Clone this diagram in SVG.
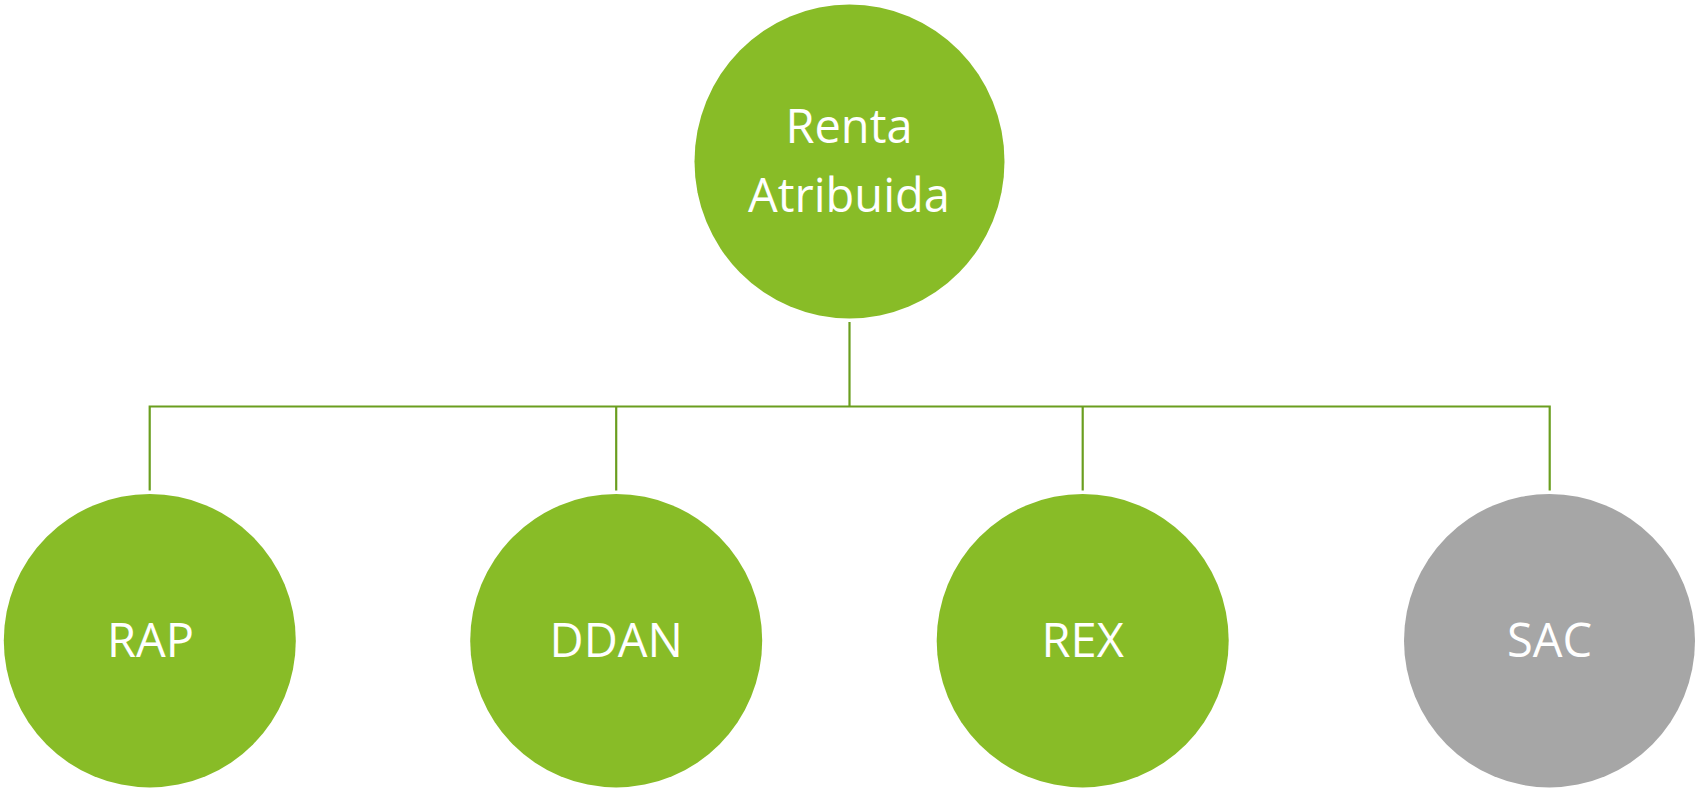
<svg xmlns="http://www.w3.org/2000/svg" width="1697" height="791" viewBox="0 0 1697 791">
<style>
.g{fill:#88BC27}
.s{fill:#A6A6A6}
.t{fill:#FFFFFF;font-family:"Open Sans","DejaVu Sans",sans-serif;font-size:47px;text-anchor:middle}
.c{fill:none;stroke:#6A9E1F;stroke-width:2.2}
</style>
<rect width="1697" height="791" fill="#FFFFFF"/>
<g id="connectors">
<path class="c" d="M849.5 322V406.5"/>
<path class="c" d="M149.7 490.5V406.5H1549.7V490.5"/>
<path class="c" d="M616.2 490.5V406.5"/>
<path class="c" d="M1082.7 490.5V406.5"/>
</g>
<g id="renta-atribuida">
<ellipse class="g" cx="849.5" cy="161.5" rx="155" ry="157"/>
<text class="t" x="849" y="143">Renta</text>
<text class="t" x="849" y="211.5">Atribuida</text>
</g>
<g id="rap">
<ellipse class="g" cx="149.8" cy="640.7" rx="146" ry="146.7"/>
<text class="t" x="150.5" y="656.5">RAP</text>
</g>
<g id="ddan">
<ellipse class="g" cx="616.2" cy="640.7" rx="146" ry="146.7"/>
<text class="t" x="616.2" y="656.5">DDAN</text>
</g>
<g id="rex">
<ellipse class="g" cx="1082.7" cy="640.7" rx="146" ry="146.7"/>
<text class="t" x="1082.7" y="656.5">REX</text>
</g>
<g id="sac">
<ellipse class="s" cx="1549.5" cy="640.7" rx="145.5" ry="146.7"/>
<text class="t" x="1549.5" y="656.5">SAC</text>
</g>
</svg>
